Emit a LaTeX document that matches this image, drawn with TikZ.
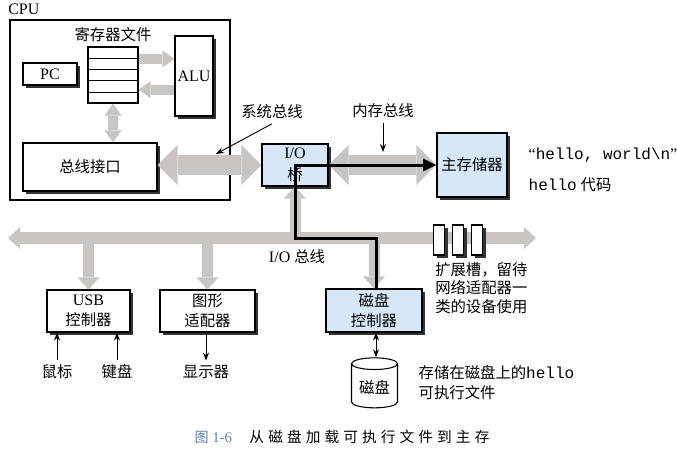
\documentclass[tikz,border=0pt]{standalone}
\usepackage{fontspec}
\setmainfont{Liberation Serif}
\setmonofont{Liberation Mono}
\newfontfamily\cjk{Noto Sans CJK SC}[Scale=0.96]
\newfontfamily\cjkcap{Noto Sans CJK SC}[LetterSpace=28]
\newcommand{\zh}[1]{{\cjk #1}}
\usepackage{xcolor}
\usepackage{tikz}
\usetikzlibrary{positioning,arrows.meta,shapes.geometric,shadows,calc}

\definecolor{busgray}{RGB}{200,197,195}
\definecolor{boxblue}{RGB}{214,232,248}
\definecolor{capblue}{RGB}{96,130,175}

\begin{document}
\begin{tikzpicture}[
    x=0.75pt, y=-0.75pt,
    font=\fontsize{12}{15}\selectfont,
    >={Stealth[length=6pt,width=4.5pt]},
    block/.style={draw, line width=0.8pt, fill=white, align=center, inner sep=1pt,
        drop shadow={shadow xshift=2.25pt, shadow yshift=-2.25pt, fill=black!80, opacity=1}},
    blueblock/.style={block, fill=boxblue},
    bigtip/.tip={Triangle[length=15pt, width=30pt, line width=0pt]},
    iotip/.tip={Triangle[length=9pt, width=16.5pt, line width=0pt]},
    regtip/.tip={Triangle[length=9pt, width=12.75pt, line width=0pt]},
    bigbus/.style={draw=busgray, line width=15pt, bigtip-bigtip},
    iobus/.style={draw=busgray, line width=9pt, iotip-iotip},
    branch/.style={draw=busgray, line width=8.25pt, -iotip},
    regbus/.style={draw=busgray, line width=7.5pt, -regtip},
    datapath/.style={draw, line width=2.25pt, -{Triangle[length=10pt, width=9pt]}},
    pointer/.style={->, line width=0.7pt}
]
\useasboundingbox (0,0) rectangle (677,456);

% CPU
\node[anchor=west, inner sep=0] (cpulabel) at (8,9) {CPU};
\node[draw, line width=0.9pt, minimum width=165pt, minimum height=135pt] (cpu) at (120,110) {};

\node[draw, line width=0.8pt, fill=white, minimum width=37.5pt, minimum height=42pt, inner sep=0] (regs) at (113,75) {};
\foreach \r in {1,...,4}
    \draw ($(regs.north west)!\r/5!(regs.south west)$) -- ($(regs.north east)!\r/5!(regs.south east)$);
\node[above=0pt of regs] (regslabel) {\zh{寄存器文件}};

\node[block, minimum width=40.5pt, minimum height=16.5pt] (pc) at (50,74) {PC};
\node[block, minimum width=28.5pt, minimum height=60pt] (alu) at (194,76) {ALU};
\node[block, minimum width=100.5pt, minimum height=36pt] (busif) at (90,167) {\zh{总线接口}};

% bridge and memory
\node[blueblock, minimum width=49.5pt, minimum height=31.5pt] (bridge) at (295,165) {};
\node[blueblock, minimum width=52.5pt, minimum height=48pt] (mem) at (472,165) {\zh{主存储器}};

% devices
\node[block, minimum width=62.25pt, minimum height=31.5pt] (usb) at (88.5,311) {USB\\\zh{控制器}};
\node[block, minimum width=71.25pt, minimum height=31.5pt] (gfx) at (207.5,311) {\zh{图形}\\\zh{适配器}};
\node[blueblock, minimum width=72pt, minimum height=32.25pt] (diskctl) at (374,310.5) {\zh{磁盘}\\\zh{控制器}};
\node[draw, line width=0.8pt, fill=white, cylinder, shape border rotate=90, aspect=0.35,
    minimum width=34.5pt, minimum height=37.5pt, inner sep=1pt] (disk) at (374.5,387) {\zh{磁盘}};

\node (mouse) at (57,372) {\zh{鼠标}};
\node (kbd) at (117,372) {\zh{键盘}};
\node (disp) at (206,372) {\zh{显示器}};

% gray buses
\draw[regbus] ([yshift=12pt]regs.east) -- ([yshift=12pt]regs.east -| alu.west);
\draw[regbus] ([yshift=-11pt]regs.east -| alu.west) -- ([yshift=-11pt]regs.east);
\draw[regbus, regtip-regtip] (regs.south) -- (regs.south |- busif.north);
\draw[bigbus] (busif.east |- bridge.west) -- (bridge.west);
\draw[bigbus] (bridge.east) -- (mem.west);

\coordinate (busL) at (8,238);
\coordinate (busR) at (536,238);
\draw[iobus] (busL) -- (busR);
\draw[branch] (usb.north |- busL) -- (usb.north);
\draw[branch] (gfx.north |- busL) -- (gfx.north);
\draw[branch] (diskctl.north |- busL) -- (diskctl.north);
\draw[branch] (bridge.south |- busL) -- (bridge.south);

% expansion slots
\foreach \x [count=\i] in {439,458,477}
    \node[block, minimum width=8.25pt, minimum height=22.5pt, inner sep=0] (slot\i) at (\x,240) {};

% hello path
\draw[datapath] ([xshift=1.5pt]diskctl.north) |- (bridge.south |- busL) -- (bridge.center) -- (bridge.center -| mem.west);
\node[align=center, font=\fontsize{12}{16}\selectfont] (bridgetext) at (bridge.center) {I/O\\\zh{桥}};

% labels
\coordinate (sysbus) at (216,154);
\node (syslabel) at (272,112) {\zh{系统总线}};
\draw[pointer] (syslabel.south) -- (sysbus);
\coordinate (membus) at (383,152);
\node (memlabel) at (383,111) {\zh{内存总线}};
\draw[pointer] (memlabel.south) -- (membus);
\node (iolabel) at (297,257) {I/O \zh{总线}};

\node[anchor=west] (hellostr) at (524,155) {“\texttt{hello, world\textbackslash n}”};
\node[anchor=west] (hellocode) at (524,185) {\texttt{hello} \zh{代码}};
\node[anchor=north west, align=left, inner sep=0, font=\fontsize{12}{14}\selectfont] (slotnote) at (435,262)
    {\zh{扩展槽，留待}\\\zh{网络适配器一}\\\zh{类的设备使用}};
\node[anchor=west, align=left] (disknote) at (414,383) {\zh{存储在磁盘上的}\texttt{hello}\\\zh{可执行文件}};

% small arrows
\draw[pointer] (mouse.north) -- (mouse.north |- usb.south);
\draw[pointer] (kbd.north) -- (kbd.north |- usb.south);
\draw[pointer] (disp.north |- gfx.south) -- (disp.north);
\draw[pointer, <->] ([xshift=1.5pt]diskctl.south) -- ([xshift=1.5pt]diskctl.south |- disk.north);

% caption
\node[font=\fontsize{11}{14}\selectfont] (caption) at (342,437) {{\color{capblue}\zh{图} 1-6}\hspace{1.2em}{\cjkcap 从磁盘加载可执行文件到主存}};
\end{tikzpicture}
\end{document}
